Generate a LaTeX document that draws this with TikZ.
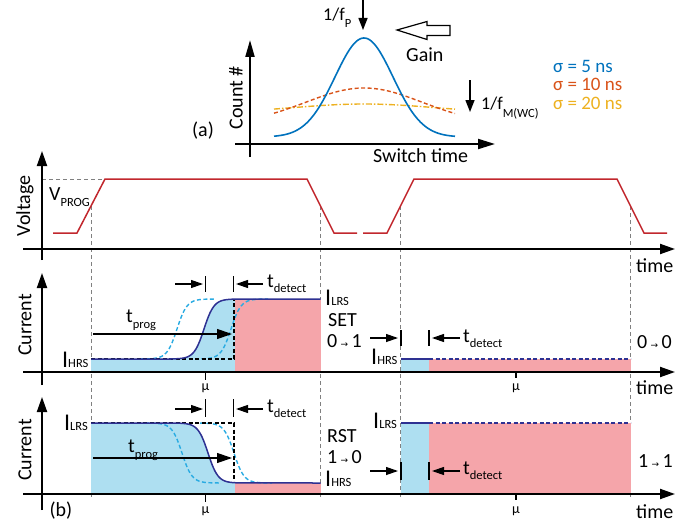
\documentclass[tikz,border=0pt]{standalone}
\usepackage{fontspec}
\setmainfont{Carlito}
\newfontfamily\djv{DejaVu Sans}
\usetikzlibrary{arrows.meta}
\definecolor{vred}{RGB}{193,39,45}
\definecolor{navy}{RGB}{46,49,146}
\definecolor{lblue}{RGB}{41,171,226}
\definecolor{fblue}{RGB}{174,223,241}
\definecolor{fpink}{RGB}{245,165,170}
\definecolor{mblue}{RGB}{0,114,189}
\definecolor{mred}{RGB}{217,83,25}
\definecolor{morange}{RGB}{237,177,32}
\newcommand\lsub[2][-5pt]{\raisebox{#1}{\fontsize{12.5}{13}\selectfont #2}}
\newcommand\rarr{\,{\djv\fontsize{9}{9}\selectfont →}\,}
\newcommand\bigI{{\fontsize{24}{24}\selectfont I}}
\begin{document}
\begin{tikzpicture}[x=1pt,y=-1pt,
  declare function={sig(\t,\c,\w)=1/(1+exp(-(\t-\c)/\w));},
  axis/.style={line width=2pt,-{Triangle[length=15pt,width=10pt]}},
  tickm/.style={line width=1.4pt},
  marr/.style={line width=1.2pt,-{Triangle[length=12pt,width=8pt]}},
  guide/.style={gray,dash pattern=on 4pt off 3pt,line width=0.9pt},
  txt/.style={inner sep=0pt,font=\fontsize{20}{22}\selectfont},
  legend/.style={inner sep=0pt,font=\fontsize{19}{20}\selectfont},
  small/.style={inner sep=0pt,font=\fontsize{14}{15}\selectfont},
  volt/.style={vred,line width=1.5pt},
  solidc/.style={navy,line width=1.5pt},
  dashc/.style={lblue,line width=1.4pt,dash pattern=on 4pt off 2.5pt},
  stepc/.style={black,line width=1.3pt,dash pattern=on 4pt off 2.5pt}]
\useasboundingbox (0,0) rectangle (696,527);

% ---------------- panel (a) ----------------
\coordinate (ay0) at (250,157); \coordinate (ay1) at (250,40);
\coordinate (ax0) at (235,144); \coordinate (ax1) at (495,144);
\draw[axis,-{Triangle[length=17pt,width=9pt]}] (ay0) -- (ay1);
\draw[axis,-{Triangle[length=17pt,width=10pt]}] (ax0) -- (ax1);
\draw[morange,line width=1.4pt,dash pattern=on 6pt off 2pt on 1.5pt off 2pt]
  plot[domain=274:455,samples=60] (\x,{113-9*exp(-((\x-364)^2)/(2*70^2))});
\draw[mred,line width=1.4pt,dash pattern=on 4pt off 2.5pt]
  plot[domain=274:455,samples=60] (\x,{124-36*exp(-((\x-364)^2)/(2*58^2))});
\draw[mblue,line width=1.6pt]
  plot[domain=274:455,samples=90] (\x,{137-99*exp(-((\x-364)^2)/(2*29^2))});
\coordinate (fpa) at (363,0); \coordinate (fpb) at (363,30);
\draw[line width=1.4pt,-{Triangle[length=12pt,width=9pt]}] (fpa) -- (fpb);
\coordinate (fma) at (470,80); \coordinate (fmb) at (470,112);
\draw[line width=1.4pt,-{Triangle[length=12pt,width=9pt]}] (fma) -- (fmb);
\draw[line width=1.2pt,line join=miter] (397,30) -- (427,21.5) -- (427,25.5) -- (450,25.5)
  -- (450,35.5) -- (427,35.5) -- (427,39.5) -- cycle;
\node[txt,anchor=base west,font=\fontsize{18}{20}\selectfont] (fP) at (323,21) {1/f\lsub[-7pt]{P}};
\node[txt,anchor=base west] (gain) at (406,62) {Gain};
\node[txt,anchor=base west,font=\fontsize{18}{20}\selectfont] (fM) at (481,110) {1/f\lsub[-8pt]{M(WC)}};
\node[txt,rotate=90] (count) at (236,98) {Count \#};
\node[txt] (alab) at (203,131) {(a)};
\node[txt,anchor=base west] (swt) at (373,162) {Switch time};
\node[legend,anchor=base west,text=mblue] (s5) at (553,73) {σ = 5 ns};
\node[legend,anchor=base west,text=mred] (s10) at (553,91) {σ = 10 ns};
\node[legend,anchor=base west,text=morange] (s20) at (553,109) {σ = 20 ns};

% ---------------- guides ----------------
\draw[guide] (42,179) -- (105,179);
\foreach \gx in {91,320.5,400.5,630.5} \draw[guide] (\gx,206) -- (\gx,497);

% ---------------- voltage panel ----------------
\draw[volt] (53,233) -- (77,233) -- (105,179) -- (307,179) -- (334,233) -- (357,233);
\draw[volt] (363,233) -- (387,233) -- (414,179) -- (617,179) -- (644,233) -- (667,233);
\coordinate (vy0) at (42,260); \coordinate (vy1) at (42,151);
\coordinate (vx0) at (23,249); \coordinate (vx1) at (675,249);
\draw[axis] (vy0) -- (vy1);
\draw[axis] (vx0) -- (vx1);
\node[txt,rotate=90] (volt) at (25,206) {Voltage};
\node[txt,anchor=base west] (vprog) at (49,200) {V\lsub[-6pt]{PROG}};
\node[txt,anchor=base west] (time1) at (636,272) {time};

% ---------------- current panel SET ----------------
\fill[fblue] (91,372) -- (91,359) -- (170,359)
  -- plot[domain=170:235,samples=50] (\x,{359-60*sig(\x,204,5)}) -- (235,372) -- cycle;
\fill[fpink] (235,299) rectangle (320.5,372);
\fill[fblue] (401,359) rectangle (429,372);
\fill[fpink] (429,359) rectangle (630.5,372);
\draw[dashc] plot[domain=140:215,samples=50] (\x,{359-60*sig(\x,177,5)});
\draw[dashc] plot[domain=195:268,samples=50] (\x,{359-60*sig(\x,231,5)});
\draw[stepc] (91,359) -- (234,359) -- (234,299);
\draw[solidc] (91,359) -- (170,359) -- plot[domain=170:240,samples=50] (\x,{359-60*sig(\x,204,5)}) -- (320.5,299);
\draw[solidc] (401,359) -- (429,359);
\draw[navy,line width=1.3pt,dash pattern=on 4pt off 2.5pt] (429,359) -- (630.5,359);
\coordinate (cy0) at (42,385); \coordinate (cy1) at (42,273);
\coordinate (cx0) at (23,372); \coordinate (cx1) at (675,372);
\draw[axis] (cy0) -- (cy1);
\draw[axis] (cx0) -- (cx1);
\node[txt,rotate=90] (cur1) at (25,325) {Current};
% markers left
\draw[tickm] (205.5,276) -- (205.5,292);
\draw[tickm] (233.5,276) -- (233.5,292);
\coordinate (m1a) at (175,284); \coordinate (m1b) at (203,284);
\coordinate (m1c) at (263,284); \coordinate (m1d) at (236,284);
\draw[marr] (m1a) -- (m1b);
\draw[marr] (m1c) -- (m1d);
\node[txt,anchor=base west] (td1) at (267,287) {t\lsub{detect}};
\coordinate (tp1a) at (93,334); \coordinate (tp1b) at (232,334);
\draw[marr,-{Triangle[length=15pt,width=10pt]}] (tp1a) -- (tp1b);
\node[txt,anchor=base west] (tp1) at (126,322) {t\lsub[-6pt]{prog}};
\draw[tickm] (205.5,372) -- (205.5,380);
\node[small] (mu1) at (205.5,388) {μ};
\node[txt,anchor=base west] (ih1) at (62,367) {\bigI\lsub[0pt]{HRS}};
\node[txt,anchor=base west] (il1) at (325,305) {\bigI\lsub[0pt]{LRS}};
\node[txt,anchor=base west] (set) at (328,326) {SET};
\node[txt,anchor=base west] (s01) at (327,347) {0\rarr 1};
% markers right
\draw[tickm] (401,330) -- (401,346);
\draw[tickm] (429,330) -- (429,346);
\coordinate (m2a) at (370,338); \coordinate (m2b) at (398,338);
\coordinate (m2c) at (460,338); \coordinate (m2d) at (432,338);
\draw[marr] (m2a) -- (m2b);
\draw[marr] (m2c) -- (m2d);
\node[txt,anchor=base west] (td2) at (463,342) {t\lsub{detect}};
\node[txt,anchor=base west] (ih2) at (371,364) {\bigI\lsub[0pt]{HRS}};
\draw[tickm] (516,372) -- (516,378);
\node[small] (mu2) at (516,388) {μ};
\node[txt,anchor=base west] (s00) at (637,348) {0\rarr 0};
\node[txt,anchor=base west] (time2) at (636,394) {time};

% ---------------- current panel RST ----------------
\fill[fblue] (91,494) -- (91,423) -- (175,423)
  -- plot[domain=175:235,samples=50] (\x,{423+60*sig(\x,208,5)}) -- (235,494) -- cycle;
\fill[fpink] (235,483) rectangle (320.5,494);
\fill[fblue] (401,423) rectangle (429,494);
\fill[fpink] (429,423) rectangle (630.5,494);
\draw[dashc] plot[domain=145:220,samples=50] (\x,{423+60*sig(\x,182,5)});
\draw[dashc] plot[domain=200:272,samples=50] (\x,{423+60*sig(\x,234,5)});
\draw[stepc] (91,423) -- (234,423) -- (234,483);
\draw[solidc] (91,423) -- (175,423) -- plot[domain=175:245,samples=50] (\x,{423+60*sig(\x,208,5)}) -- (320.5,483);
\draw[solidc] (401,423) -- (429,423);
\draw[navy,line width=1.3pt,dash pattern=on 4pt off 2.5pt] (429,423) -- (630.5,423);
\coordinate (ry0) at (42,510); \coordinate (ry1) at (42,397);
\coordinate (rx0) at (23,494); \coordinate (rx1) at (675,494);
\draw[axis] (ry0) -- (ry1);
\draw[axis] (rx0) -- (rx1);
\node[txt,rotate=90] (cur2) at (25,450) {Current};
\draw[tickm] (205.5,399) -- (205.5,417);
\draw[tickm] (233.5,399) -- (233.5,417);
\coordinate (m3a) at (175,409); \coordinate (m3b) at (203,409);
\coordinate (m3c) at (263,409); \coordinate (m3d) at (236,409);
\draw[marr] (m3a) -- (m3b);
\draw[marr] (m3c) -- (m3d);
\node[txt,anchor=base west] (td3) at (267,412) {t\lsub{detect}};
\coordinate (tp2a) at (93,458); \coordinate (tp2b) at (232,458);
\draw[marr,-{Triangle[length=15pt,width=10pt]}] (tp2a) -- (tp2b);
\node[txt,anchor=base west] (tp2) at (128,452) {t\lsub[-6pt]{prog}};
\draw[tickm] (205.5,494) -- (205.5,502);
\node[small] (mu3) at (205.5,511) {μ};
\node[txt] (blab) at (61,511) {(b)};
\node[txt,anchor=base west] (il3) at (64,430) {\bigI\lsub[0pt]{LRS}};
\node[txt,anchor=base west] (rst) at (327,442) {RST};
\node[txt,anchor=base west] (s10b) at (327,463) {1\rarr 0};
\node[txt,anchor=base west] (ih3) at (325,486) {\bigI\lsub[0pt]{HRS}};
\draw[tickm] (401,462) -- (401,480);
\draw[tickm] (429,462) -- (429,480);
\coordinate (m4a) at (370,471); \coordinate (m4b) at (398,471);
\coordinate (m4c) at (460,471); \coordinate (m4d) at (432,471);
\draw[marr] (m4a) -- (m4b);
\draw[marr] (m4c) -- (m4d);
\node[txt,anchor=base west] (td4) at (463,474) {t\lsub{detect}};
\node[txt,anchor=base west] (il4) at (373,428) {\bigI\lsub[0pt]{LRS}};
\draw[tickm] (516,494) -- (516,500);
\node[small] (mu4) at (516,511) {μ};
\node[txt,anchor=base west] (s11) at (638,467) {1\rarr 1};
\node[txt,anchor=base west] (time3) at (636,518) {time};
\end{tikzpicture}
\end{document}
